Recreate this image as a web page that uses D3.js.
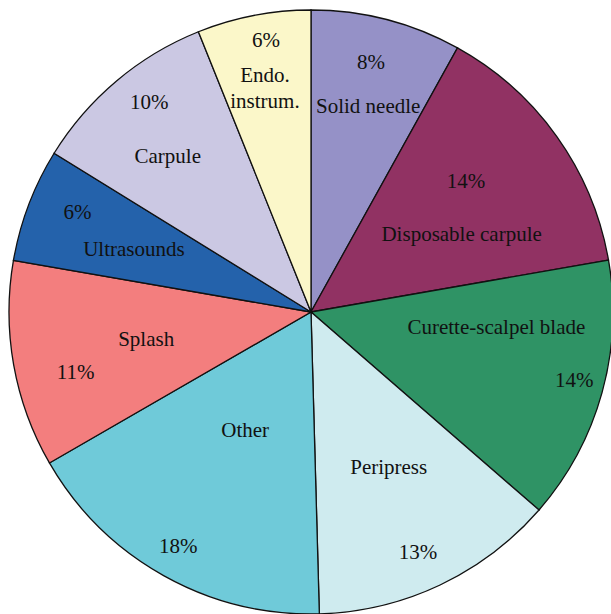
<!DOCTYPE html>
<html>
<head>
<meta charset="utf-8">
<script src="https://cdn.jsdelivr.net/npm/d3@7"></script>
<style>
  html, body { margin: 0; padding: 0; background: #fff; }
</style>
</head>
<body>
<div id="chart"></div>
<script>
// data, clockwise from 12 o'clock (slice sizes)
var categories = ["Solid needle", "Disposable carpule", "Curette-scalpel blade", "Peripress",
                  "Other", "Splash", "Ultrasounds", "Carpule", "Endo. instrum."];
var values = [8.06, 14.19, 14.13, 13.18, 17.11, 11.06, 6.08, 10.11, 6.08];
var pctLabels = ["8%", "14%", "14%", "13%", "18%", "11%", "6%", "10%", "6%"];
var colors = ["#9591c7", "#913263", "#2f9365", "#cfebef", "#6fcad9",
              "#f37e7e", "#2462ab", "#cbc8e3", "#fbf7c9"];

// label placement (angle in degrees from top, radius in px)
var namePos = [[15.5, 214], [62.4, 170], [94.6, 186], [153.3, 173], [209.2, 135],
               [260.7, 167], [289.6, 188], [317.5, 212], [348.4, 229]];
var pctPos = [[13.5, 257], [49.8, 203], [104.5, 272], [155.9, 262], [209.6, 269],
              [255.7, 243], [293.2, 254], [322.4, 265], [350.6, 276]];

var svgWidth = 611, svgHeight = 614;
var cx = 311, cy = 312, radius = 302;
var fontFamily = "'Liberation Serif', 'Times New Roman', 'DejaVu Serif', serif";
var fontSize = 21;

var svg = d3.select("#chart").append("svg")
  .attr("width", svgWidth)
  .attr("height", svgHeight);

var g = svg.append("g").attr("transform", `translate(${cx}, ${cy})`);

var pie = d3.pie().sort(null).value(d => d);
var arc = d3.arc().innerRadius(0).outerRadius(radius);

g.selectAll("path.slice")
  .data(pie(values))
  .enter().append("path")
  .attr("class", "slice")
  .attr("d", arc)
  .attr("fill", (d, i) => colors[i])
  .attr("stroke", "#111")
  .attr("stroke-width", 1.3);

function polar(p) {
  var a = p[0] * Math.PI / 180;
  return [p[1] * Math.sin(a), -p[1] * Math.cos(a)];
}

function addText(xy) {
  return g.append("text")
    .attr("text-anchor", "middle")
    .attr("font-family", fontFamily)
    .attr("font-size", fontSize)
    .attr("fill", "#111")
    .attr("x", xy[0])
    .attr("y", xy[1]);
}

// category names (two lines for "Endo. instrum.")
categories.forEach(function(name, i) {
  var xy = polar(namePos[i]);
  var lines = name.indexOf(". ") > 0 ? name.split(" ") : [name];
  var t = addText(xy);
  lines.forEach(function(line, j) {
    t.append("tspan")
      .attr("x", xy[0])
      .attr("dy", j === 0 ? (0.35 - (lines.length - 1) * 0.6) + "em" : "1.2em")
      .text(line);
  });
});

pctLabels.forEach(function(lbl, i) {
  addText(polar(pctPos[i])).attr("dy", "0.35em").text(lbl);
});
</script>
</body>
</html>
